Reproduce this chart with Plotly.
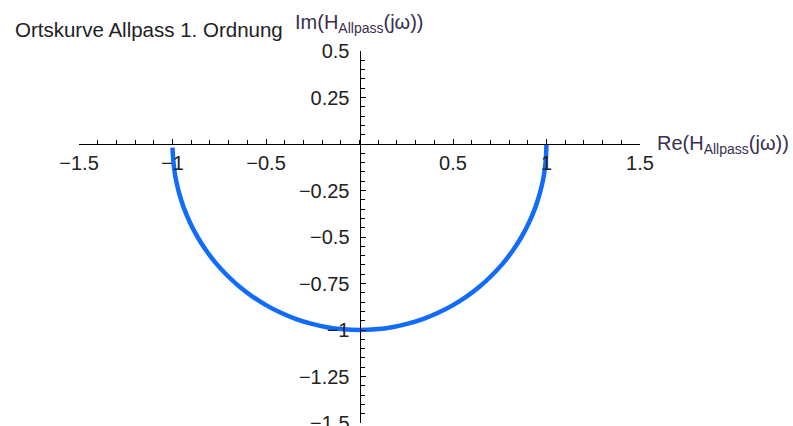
import plotly.graph_objects as go

# Locus (Ortskurve) of a first-order all-pass: sampled points of H(jw), w running from high to low
re_vals = [-1.0, -0.996, -0.985, -0.966, -0.94, -0.906, -0.866, -0.819, -0.766, -0.707, -0.643,
           -0.574, -0.5, -0.423, -0.342, -0.259, -0.174, -0.087, 0.0, 0.087, 0.174, 0.259, 0.342,
           0.423, 0.5, 0.574, 0.643, 0.707, 0.766, 0.819, 0.866, 0.906, 0.94, 0.966, 0.985, 0.996, 1.0]
im_vals = [-0.02, -0.087, -0.174, -0.259, -0.342, -0.423, -0.5, -0.574, -0.643, -0.707, -0.766,
           -0.819, -0.866, -0.906, -0.94, -0.966, -0.985, -0.996, -1.0, -0.996, -0.985, -0.966,
           -0.94, -0.906, -0.866, -0.819, -0.766, -0.707, -0.643, -0.574, -0.5, -0.423, -0.342,
           -0.259, -0.174, -0.087, 0.0]

x_ticks = [-1.5, -1.0, -0.5, 0.5, 1.0, 1.5]
x_ticktext = ["\u22121.5", "\u22121", "\u22120.5", "0.5", "1", "1.5"]
y_ticks = [0.5, 0.25, -0.25, -0.5, -0.75, -1.0, -1.25, -1.5]
y_ticktext = ["0.5", "0.25", "\u22120.25", "\u22120.5", "\u22120.75", "\u22121", "\u22121.25", "\u22121.5"]

FONT = "Liberation Sans, Arial, sans-serif"
TEXT = "#222222"
LABEL = "#3a2f4f"

fig = go.Figure()
fig.add_trace(go.Scatter(
    x=re_vals, y=im_vals, mode="lines",
    line=dict(color="rgb(18,107,255)", width=4.5, shape="spline", smoothing=0.6),
    hoverinfo="skip", showlegend=False,
))

fig.update_layout(
    width=793, height=426,
    margin=dict(l=79, r=153, t=51, b=3, autoexpand=False),
    paper_bgcolor="white", plot_bgcolor="white",
    font=dict(family=FONT, size=20, color=TEXT),
    xaxis=dict(
        range=[-1.5, 1.5], anchor="free", position=0.75, side="bottom", automargin=False,
        showgrid=False, zeroline=False, showline=True, linecolor="black", linewidth=1,
        ticks="inside", ticklen=5, tickcolor="black", tickwidth=1,
        tickvals=x_ticks, ticktext=x_ticktext, ticklabelstandoff=1,
        ticklabeloverflow="allow",
        minor=dict(dtick=0.1, tick0=0, ticks="inside", ticklen=4, tickcolor="black", showgrid=False),
    ),
    yaxis=dict(
        range=[-1.5, 0.5], anchor="free", position=0.5, side="left", automargin=False,
        showgrid=False, zeroline=False, showline=True, linecolor="black", linewidth=1,
        ticks="inside", ticklen=5, tickcolor="black", tickwidth=1,
        tickvals=y_ticks, ticktext=y_ticktext, ticklabelstandoff=6,
        ticklabeloverflow="allow",
        minor=dict(dtick=0.05, tick0=0, ticks="inside", ticklen=4, tickcolor="black", showgrid=False),
    ),
    annotations=[
        dict(text="Ortskurve Allpass 1. Ordnung", xref="paper", yref="paper",
             x=-0.1176, y=1.0565, xanchor="left", yanchor="middle", showarrow=False,
             font=dict(family=FONT, size=20.5, color=TEXT)),
        dict(text="Im(H<sub>Allpass</sub>(j\u03c9))", xref="x", yref="paper",
             x=0, y=1.075, xanchor="center", yanchor="middle", showarrow=False,
             font=dict(family=FONT, size=20, color=LABEL)),
        dict(text="Re(H<sub>Allpass</sub>(j\u03c9))", xref="x", yref="y",
             x=1.5, y=0, xanchor="left", yanchor="middle", xshift=15, showarrow=False,
             font=dict(family=FONT, size=20, color=LABEL)),
    ],
)

fig.write_html("out.html")
